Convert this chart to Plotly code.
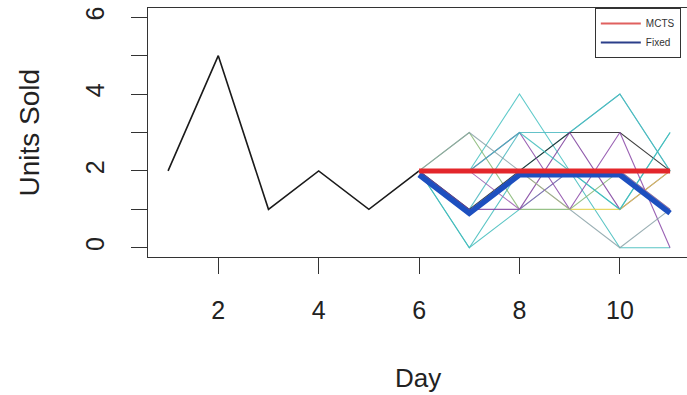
import plotly.graph_objects as go

# Observed sales history
hist_days = [1, 2, 3, 4, 5, 6]
hist_units = [2, 5, 1, 2, 1, 2]

# Forecast horizon
future_days = [6, 7, 8, 9, 10, 11]
mcts_units = [2, 2, 2, 2, 2, 2]
fixed_units = [1.9, 0.9, 1.9, 1.9, 1.9, 0.9]

# Simulated demand paths over the horizon
sim_paths = [
    [2, 0, 2, 3, 4, 2],
    [2, 2, 4, 2, 1, 3],
    [2, 1, 3, 3, 4, 2],
    [2, 0, 1, 2, 0, 0],
    [2, 3, 1, 1, 2, 1],
    [2, 1, 2, 3, 3, 2],
    [2, 2, 3, 1, 3, 0],
    [2, 1, 1, 3, 1, 2],
    [2, 2, 2, 1, 1, 2],
    [2, 3, 2, 1, 0, 1],
    [2, 2, 1, 2, 2, 1],
    [2, 2, 3, 2, 1, 3],
]
sim_colors = [
    "#3fbcbc", "#45c2c2", "#4ab8c0", "#3fbcbc", "#86b874", "#1e1e1e",
    "#8a48a8", "#7e3f9e", "#e3d24a", "#8aa3a8", "#9a5ab0", "#3fbcbc",
]

x_ticks = [2, 4, 6, 8, 10]
y_ticks = [0, 1, 2, 3, 4, 5, 6]
y_ticktext = ["0", "", "2", "", "4", "", "6"]

fig = go.Figure()

fig.add_trace(go.Scatter(x=hist_days, y=hist_units, mode="lines",
                         line=dict(color="#1a1a1a", width=1.6),
                         showlegend=False, hoverinfo="skip"))

for path, col in zip(sim_paths, sim_colors):
    fig.add_trace(go.Scatter(x=future_days, y=path, mode="lines",
                             line=dict(color=col, width=1.1),
                             opacity=0.85, showlegend=False, hoverinfo="skip"))

fig.add_trace(go.Scatter(x=future_days, y=fixed_units, mode="lines",
                         line=dict(color="#1d4fbf", width=5.5),
                         showlegend=False))
fig.add_trace(go.Scatter(x=future_days, y=mcts_units, mode="lines",
                         line=dict(color="#e3262b", width=5),
                         showlegend=False))

# Legend entries with thin keys
fig.add_trace(go.Scatter(x=[None], y=[None], mode="lines", name="MCTS",
                         line=dict(color="#e0605f", width=2)))
fig.add_trace(go.Scatter(x=[None], y=[None], mode="lines", name="Fixed",
                         line=dict(color="#2b3f8a", width=2)))

axis_font = dict(family="Liberation Sans, Arial, sans-serif", size=25, color="#222222")

fig.update_xaxes(range=[0.6, 11.337], tickmode="array", tickvals=x_ticks,
                 ticks="outside", ticklen=16, tickwidth=1.2, tickcolor="#333333",
                 showline=True, linecolor="#333333", linewidth=1.2, mirror=True,
                 showgrid=False, zeroline=False, tickfont=axis_font,
                 ticklabelstandoff=15)
fig.update_yaxes(range=[-0.24, 6.24], tickmode="array", tickvals=y_ticks,
                 ticktext=y_ticktext, tickangle=-90,
                 ticks="outside", ticklen=16, tickwidth=1.2, tickcolor="#333333",
                 showline=True, linecolor="#333333", linewidth=1.2, mirror=False,
                 showgrid=False, zeroline=False, tickfont=axis_font,
                 ticklabelstandoff=17)

fig.update_layout(
    width=687, height=395,
    margin=dict(l=148, r=0, t=8, b=138, autoexpand=False),
    plot_bgcolor="white", paper_bgcolor="white",
    font=dict(family="Liberation Sans, Arial, sans-serif", color="#222222"),
    legend=dict(x=0.829, y=1.0, xanchor="left", yanchor="top",
                bgcolor="white", bordercolor="#333333", borderwidth=1,
                font=dict(size=10, color="#333333"), itemwidth=40,
                tracegroupgap=0),
    annotations=[
        dict(text="Day", x=0.501, y=-0.484, xref="paper", yref="paper",
             showarrow=False, font=dict(size=26), yanchor="middle"),
        dict(text="Units Sold", x=-0.219, y=0.50, xref="paper", yref="paper",
             showarrow=False, font=dict(size=28), textangle=-90,
             xanchor="center", yanchor="middle"),
    ],
)

fig.write_html("out.html")
